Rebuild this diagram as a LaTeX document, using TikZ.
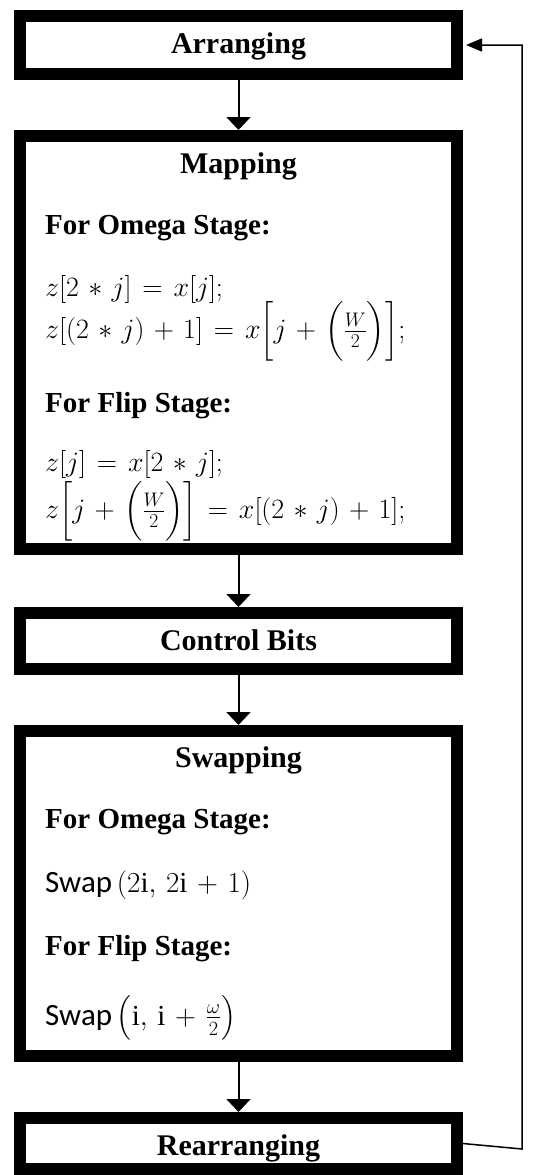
\RequirePackage{fix-cm}
\documentclass[tikz,border=0pt]{standalone}
\usepackage{amsmath}
\usepackage{fontspec}
\setmainfont{Liberation Serif}
\newfontfamily\swapfont{Carlito}
\usetikzlibrary{arrows.meta}

% roomier spacing around operators and relations
\newcommand{\wideeq}{\medmuskip=6mu plus 2mu minus 2mu\thickmuskip=7mu plus 2mu}

\tikzset{
  stagebox/.style={draw, line width=12pt, minimum width=437pt, inner sep=0pt},
  head/.style={font=\fontsize{30}{34}\selectfont\bfseries, inner sep=0pt, anchor=base},
  sub/.style={font=\fontsize{29}{34}\selectfont\bfseries, inner sep=0pt, anchor=base west},
  eq/.style={font=\fontsize{28}{32}\selectfont\wideeq, inner sep=0pt, anchor=base west},
  swapeq/.style={font=\fontsize{29}{33}\selectfont\wideeq, inner sep=0pt, anchor=base west},
  flow/.style={line width=2pt, -{Triangle[width=24pt,length=13pt]}},
  back/.style={line width=1.5pt, -{Triangle[width=13pt,length=16pt]}, shorten >=3pt},
}

\begin{document}
\begin{tikzpicture}[x=1pt,y=-1pt]
\useasboundingbox (0,0) rectangle (540,1175);

% stage boxes
\node[stagebox, minimum height=58pt]  (arr)  at (238.5,45)     {};
\node[stagebox, minimum height=413pt] (map)  at (238.5,342.5)  {};
\node[stagebox, minimum height=56pt]  (ctl)  at (238.5,641)    {};
\node[stagebox, minimum height=325pt] (swp)  at (238.5,893.5)  {};
\node[stagebox, minimum height=51pt]  (rear) at (238.5,1143.5) {};

% box titles
\node[head] (arrT)  at (238.5,53)   {Arranging};
\node[head] (mapT)  at (238.5,173)  {Mapping};
\node[head] (ctlT)  at (238.5,650)  {Control Bits};
\node[head] (swpT)  at (238.5,767)  {Swapping};
\node[head] (rearT) at (238.5,1155) {Rearranging};

% mapping rules
\node[sub] (mapO)  at (45,234) {For Omega Stage:};
\node[eq]  (mapO1) at (45,296) {$z[2\ast j]=x[j];$};
\node[eq]  (mapO2) at (45,338) {$z[(2\ast j)+1]=x\Bigl[j+\Bigl(\frac{W}{2}\Bigr)\Bigr];$};
\node[sub] (mapF)  at (45,412) {For Flip Stage:};
\node[eq]  (mapF1) at (45,471) {$z[j]=x[2\ast j];$};
\node[eq]  (mapF2) at (45,518) {$z\Bigl[j+\Bigl(\frac{W}{2}\Bigr)\Bigr]=x[(2\ast j)+1];$};

% swapping rules
\node[sub]    (swpO)  at (45,828)  {For Omega Stage:};
\node[swapeq] (swpO1) at (45,892)  {{\swapfont\fontsize{31}{34}\selectfont Swap}\,$(2\mathrm{i},\,2\mathrm{i}+1)$};
\node[sub]    (swpF)  at (45,955)  {For Flip Stage:};
\node[swapeq] (swpF1) at (45,1025) {{\swapfont\fontsize{31}{34}\selectfont Swap}\,$\bigl(\mathrm{i},\,\mathrm{i}+\frac{\omega}{2}\bigr)$};

% flow between stages
\draw[flow] (arr) -- (map);
\draw[flow] (map) -- (ctl);
\draw[flow] (ctl) -- (swp);
\draw[flow] (swp) -- (rear);

% feedback loop
\coordinate (turn) at (522,1149);
\draw[back] (rear.east) -- (turn) |- (arr.east);
\end{tikzpicture}
\end{document}
